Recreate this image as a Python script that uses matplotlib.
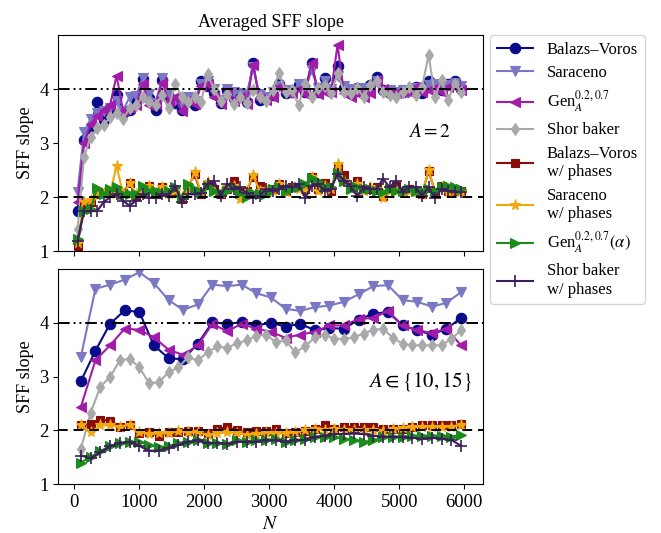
import numpy as np
import matplotlib
matplotlib.use("Agg")
import matplotlib.pyplot as plt

plt.rcParams["font.family"] = ["Liberation Serif", "DejaVu Serif"]
plt.rcParams["mathtext.fontset"] = "stix"

# ---------------- data ----------------
# A = 2 : system sizes
N_top = np.arange(50, 6000, 100)

bv_top = [1.75, 3.05, 3.27, 3.76, 3.42, 3.58, 3.89, 3.55, 3.62, 3.80,
          4.18, 3.83, 3.62, 4.17, 3.86, 3.75, 3.62, 3.78, 3.70, 4.14,
          4.05, 3.92, 3.75, 3.98, 3.83, 3.88, 3.76, 4.48, 3.80, 3.83,
          3.89, 4.09, 3.92, 3.95, 4.07, 3.95, 4.48, 3.95, 4.20, 3.98,
          4.42, 4.01, 3.95, 4.01, 3.98, 4.07, 4.23, 3.98, 3.92, 3.92,
          3.95, 3.98, 4.04, 3.92, 4.14, 4.04, 3.98, 4.10, 4.14, 4.00]
sar_top = [2.10, 3.20, 3.45, 3.55, 3.60, 3.65, 3.78, 3.60, 3.85, 3.88,
           4.20, 3.90, 3.75, 4.20, 3.90, 3.80, 3.70, 3.85, 3.78, 4.10,
           4.15, 4.00, 3.80, 4.00, 3.95, 3.92, 3.90, 4.40, 3.90, 3.85,
           3.95, 4.05, 3.98, 3.92, 4.10, 3.98, 4.35, 4.02, 4.15, 4.00,
           4.25, 4.05, 4.00, 3.95, 4.02, 3.98, 4.15, 3.95, 3.98, 3.95,
           3.98, 3.95, 4.02, 3.98, 4.08, 4.10, 4.02, 4.08, 4.12, 4.05]
gen_top = [1.90, 3.00, 3.35, 3.50, 3.62, 3.70, 4.25, 3.60, 3.65, 3.70,
           4.10, 3.70, 3.72, 4.12, 3.78, 3.85, 3.60, 3.80, 3.72, 4.05,
           4.10, 3.85, 3.72, 3.92, 3.78, 3.85, 3.72, 4.45, 3.82, 3.80,
           3.86, 4.04, 3.95, 3.92, 4.00, 3.90, 4.48, 3.90, 3.95, 3.95,
           4.82, 3.92, 3.86, 3.92, 3.86, 3.92, 4.17, 4.00, 3.92, 3.92,
           3.95, 3.95, 4.04, 3.95, 3.98, 4.01, 3.95, 4.04, 4.04, 3.98]
shor_top = [1.40, 2.74, 3.11, 3.27, 3.33, 3.48, 3.55, 3.45, 3.64, 3.70,
            3.86, 3.76, 3.70, 3.89, 3.64, 4.10, 3.86, 3.76, 3.86, 3.76,
            4.28, 4.00, 3.78, 3.90, 3.72, 3.85, 3.75, 3.98, 3.85, 3.78,
            3.98, 4.29, 3.95, 3.98, 3.70, 4.10, 3.86, 4.01, 4.05, 3.92,
            4.29, 3.95, 3.92, 4.01, 3.86, 4.07, 4.15, 3.95, 3.89, 3.86,
            3.95, 4.04, 3.89, 4.04, 4.63, 3.86, 4.17, 3.80, 4.10, 3.95]
bvp_top = [1.09, 1.88, 1.90, 2.05, 2.08, 2.08, 2.12, 2.08, 2.26, 2.02,
           2.15, 2.21, 2.05, 2.18, 2.08, 2.10, 1.96, 2.18, 2.43, 2.05,
           2.25, 2.15, 2.05, 2.15, 2.30, 2.10, 2.12, 2.37, 2.21, 2.10,
           2.15, 2.24, 2.12, 2.18, 2.18, 2.15, 2.37, 2.15, 2.26, 2.12,
           2.56, 2.40, 2.18, 2.30, 2.15, 2.15, 2.18, 2.02, 2.15, 2.20,
           2.12, 2.15, 2.12, 2.06, 2.48, 2.10, 2.21, 2.12, 2.12, 2.12]
sarp_top = [1.15, 1.90, 1.95, 2.05, 2.08, 2.05, 2.58, 2.05, 2.26, 2.05,
            2.15, 2.21, 2.08, 2.18, 2.05, 2.12, 2.00, 2.15, 2.46, 2.08,
            2.27, 2.12, 2.08, 2.18, 2.20, 1.96, 2.12, 2.40, 2.12, 2.15,
            2.12, 2.24, 2.10, 2.18, 2.15, 2.12, 2.37, 2.12, 2.20, 2.15,
            2.62, 2.30, 2.15, 2.25, 2.12, 2.18, 2.15, 1.99, 2.12, 2.15,
            2.10, 2.12, 2.10, 2.05, 2.50, 2.08, 2.18, 2.10, 2.12, 2.10]
gena_top = [1.22, 1.74, 1.77, 2.16, 2.06, 2.14, 2.18, 2.05, 2.05, 2.05,
            2.21, 2.12, 2.12, 2.08, 2.12, 2.18, 1.99, 2.24, 2.14, 2.10,
            2.20, 2.12, 2.08, 2.12, 2.18, 2.08, 2.00, 2.08, 2.05, 2.05,
            2.15, 2.18, 2.12, 2.15, 2.18, 2.24, 2.35, 2.29, 2.18, 2.18,
            2.45, 2.30, 2.15, 2.18, 2.15, 2.15, 2.12, 2.10, 2.15, 2.12,
            2.12, 2.15, 2.12, 2.12, 2.15, 2.12, 2.18, 2.21, 2.18, 2.15]
shorp_top = [1.18, 1.74, 1.74, 1.74, 1.90, 2.00, 2.05, 1.93, 1.84, 1.93,
             2.05, 1.99, 1.99, 2.05, 2.02, 2.21, 1.90, 2.05, 2.05, 2.08,
             2.24, 2.30, 2.02, 2.24, 2.15, 2.18, 2.08, 1.99, 2.02, 2.15,
             2.12, 2.15, 2.21, 2.18, 2.24, 1.99, 2.20, 2.24, 2.12, 2.15,
             2.43, 2.30, 2.20, 2.02, 2.18, 2.15, 2.15, 2.34, 2.18, 2.30,
             2.09, 2.18, 2.18, 2.02, 2.18, 1.99, 2.15, 2.12, 2.10, 2.09]

# A in {10, 15}
N_bot_a = np.arange(100, 6000, 225)
N_bot_b = np.arange(100, 6000, 150)

bv_bot = [2.91, 3.48, 3.98, 4.23, 4.20, 3.58, 3.34, 3.32, 3.61, 4.01,
          3.98, 4.01, 3.95, 4.00, 3.93, 3.98, 3.86, 3.90, 3.89, 4.06,
          4.17, 4.20, 3.95, 3.86, 3.78, 3.89, 4.09]
sar_bot = [3.36, 4.63, 4.71, 4.80, 4.94, 4.74, 4.42, 4.24, 4.34, 4.71,
           4.68, 4.71, 4.55, 4.47, 4.26, 4.22, 4.29, 4.32, 4.39, 4.53,
           4.68, 4.70, 4.42, 4.39, 4.30, 4.37, 4.57]
gen_bot = [2.43, 3.30, 3.58, 3.89, 3.87, 3.73, 3.50, 3.40, 3.58, 3.98,
           3.84, 3.98, 3.89, 3.83, 3.72, 3.78, 3.83, 3.95, 3.95, 4.07,
           4.09, 4.22, 3.95, 3.86, 3.81, 3.89, 3.58]
shor_bot = [1.65, 2.32, 2.81, 2.99, 3.30, 3.33, 3.17, 2.88, 2.89, 3.08,
            3.17, 3.36, 3.30, 3.45, 3.56, 3.53, 3.62, 3.67, 3.76, 3.78,
            3.64, 3.67, 3.45, 3.56, 3.73, 3.78, 3.70, 3.70, 3.73, 3.80,
            3.87, 3.89, 3.72, 3.61, 3.58, 3.58, 3.58, 3.58, 3.70, 3.86]
bvp_bot = [2.09, 2.12, 2.19, 2.18, 2.07, 2.09, 1.94, 1.96, 1.90, 1.96,
           1.96, 1.99, 1.98, 1.94, 2.02, 2.06, 2.00, 1.96, 1.98, 1.98,
           2.02, 1.94, 1.96, 1.99, 2.02, 2.09, 2.02, 2.06, 2.06, 2.06,
           2.07, 2.02, 2.02, 2.02, 2.06, 2.09, 2.09, 2.09, 2.09, 2.12]
sarp_bot = [2.10, 1.96, 2.09, 2.09, 2.07, 2.10, 1.96, 1.93, 1.94, 1.94,
            1.98, 1.96, 1.96, 1.92, 1.94, 1.96, 1.94, 1.92, 1.93, 1.94,
            1.94, 1.94, 1.96, 2.00, 2.02, 2.00, 2.02, 2.00, 2.00, 2.00,
            2.00, 1.99, 2.02, 2.04, 2.06, 2.07, 2.07, 2.06, 2.07, 2.10]
gena_bot = [1.40, 1.50, 1.61, 1.71, 1.76, 1.79, 1.78, 1.73, 1.68, 1.71,
            1.76, 1.78, 1.81, 1.76, 1.76, 1.75, 1.81, 1.79, 1.81, 1.82,
            1.84, 1.78, 1.81, 1.84, 1.88, 1.88, 1.87, 1.84, 1.81, 1.78,
            1.81, 1.87, 1.88, 1.88, 1.90, 1.90, 1.90, 1.90, 1.88, 1.92]
shorp_bot = [1.53, 1.48, 1.59, 1.70, 1.76, 1.78, 1.71, 1.62, 1.62, 1.67,
             1.73, 1.78, 1.81, 1.76, 1.76, 1.75, 1.78, 1.79, 1.79, 1.81,
             1.81, 1.79, 1.81, 1.82, 1.87, 1.90, 1.93, 1.93, 1.94, 1.93,
             1.90, 1.88, 1.88, 1.87, 1.86, 1.84, 1.86, 1.84, 1.82, 1.71]

labels = ["Balazs\u2013Voros", "Saraceno", r"Gen$_A^{0.2,0.7}$", "Shor baker",
          "Balazs\u2013Voros\nw/ phases", "Saraceno\nw/ phases",
          r"Gen$_A^{0.2,0.7}(\alpha)$", "Shor baker\nw/ phases"]
colors = ["#0a0a8c", "#7a78c4", "#a21caa", "#a9a9a9",
          "#8b0a0a", "#f0a80c", "#1a8c1a", "#3c1e5a"]
markers = ["o", "v", "<", "d", "s", "*", ">", "+"]
msizes = [7.5, 7, 7, 6, 6, 8, 7, 8]

top_series = [(N_top, bv_top), (N_top, sar_top), (N_top, gen_top), (N_top, shor_top),
              (N_top, bvp_top), (N_top, sarp_top), (N_top, gena_top), (N_top, shorp_top)]
bot_series = [(N_bot_a, bv_bot), (N_bot_a, sar_bot), (N_bot_a, gen_bot), (N_bot_b, shor_bot),
              (N_bot_b, bvp_bot), (N_bot_b, sarp_bot), (N_bot_b, gena_bot), (N_bot_b, shorp_bot)]

# ---------------- figure ----------------
fig = plt.figure(figsize=(6.61, 5.33), dpi=100)
ax1 = fig.add_axes([0.0882, 0.529, 0.6421, 0.4053])
ax2 = fig.add_axes([0.0882, 0.0919, 0.6421, 0.4034], sharex=ax1)

handles = []
for ax, series in ((ax1, top_series), (ax2, bot_series)):
    for i, (x, y) in enumerate(series):
        h, = ax.plot(x, y, color=colors[i], marker=markers[i], ms=msizes[i],
                     lw=1.5, mew=1.2 if markers[i] == "+" else 0.8,
                     mec=colors[i], label=labels[i])
        if ax is ax1:
            handles.append(h)
    ax.axhline(4, color="black", lw=1.4, ls=(0, (6, 2, 1, 2, 1, 2)), zorder=5)
    ax.axhline(2, color="black", lw=1.4, ls=(0, (5, 3)), zorder=5)
    ax.set_ylim(1, 5)
    ax.set_yticks([1, 2, 3, 4])
    ax.set_ylabel("SFF slope", fontsize=13)
    ax.tick_params(labelsize=13.5)

ax1.set_xlim(-246, 6283)
ax1.set_xticks(range(0, 7000, 1000))
ax1.tick_params(labelbottom=False)
ax2.set_xlabel(r"$N$", fontsize=14)

ax1.set_title("Averaged SFF slope", fontsize=13)
ax1.text(0.925, 0.55, r"$A=2$", transform=ax1.transAxes, ha="right",
         va="center", fontsize=14)
ax2.text(0.975, 0.475, r"$A\in\{10,15\}$", transform=ax2.transAxes, ha="right",
         va="center", fontsize=15)

fig.legend(handles=handles, loc="upper left",
           bbox_to_anchor=(490 / 661, 1 - 35 / 533), fontsize=12,
           frameon=True, fancybox=True, edgecolor="#cccccc",
           handlelength=2.2, borderaxespad=0, labelspacing=0.45)

fig.savefig("out.png", dpi=100)
